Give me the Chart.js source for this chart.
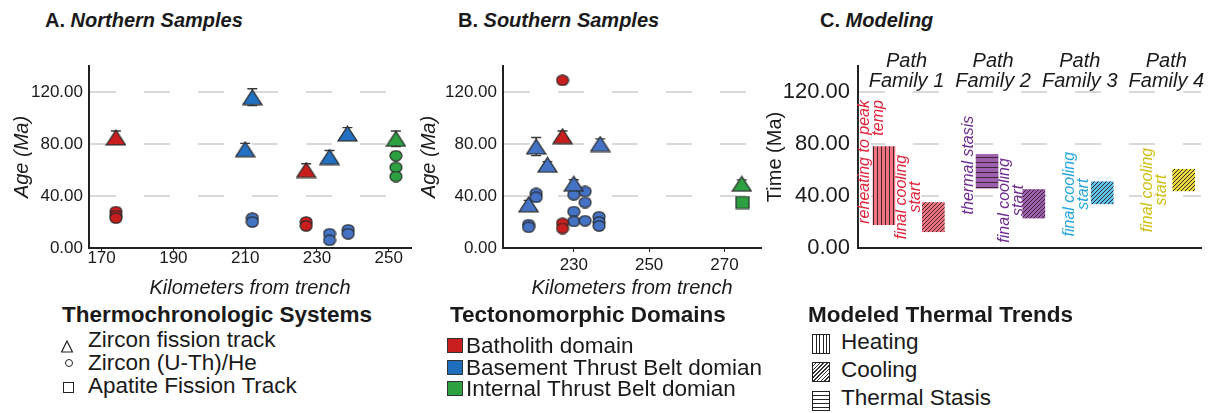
<!DOCTYPE html>
<html>
<head>
<meta charset="utf-8">
<script src="https://cdn.jsdelivr.net/npm/chart.js@4.4.1/dist/chart.umd.min.js"></script>
<style>
  body { margin: 0; background: #fff; }
  #fig { position: relative; width: 1214px; height: 413px; overflow: hidden;
         font-family: "Liberation Sans", Arial, sans-serif; color: #1a1a1a; }
  canvas { position: absolute; top: 0; }
  .ptitle { position: absolute; top: 10px; font-size: 20px; line-height: 20px; font-weight: bold; white-space: nowrap; }
  .lgTitle { position: absolute; top: 304px; font-size: 22.5px; line-height: 22.5px; font-weight: bold; white-space: nowrap; }
  .lgItem { position: absolute; font-size: 22.5px; line-height: 22.5px; white-space: nowrap; }
  .sw { position: absolute; box-sizing: border-box; }
</style>
</head>
<body>
<div id="fig">
  <div class="ptitle" style="left:45px">A. <i>Northern Samples</i></div>
  <div class="ptitle" style="left:458px">B. <i>Southern Samples</i></div>
  <div class="ptitle" style="left:820px">C. <i>Modeling</i></div>

  <canvas id="chartA" width="420" height="300" style="left:0px"></canvas>
  <canvas id="chartB" width="360" height="300" style="left:410px"></canvas>
  <canvas id="chartC" width="454" height="300" style="left:760px"></canvas>

  <!-- legend: systems -->
  <div class="lgTitle" style="left:62px">Thermochronologic Systems</div>
  <svg class="sw" style="left:61px;top:340px" width="12" height="13"><polygon points="6,1 11.4,12 0.6,12" fill="none" stroke="#222" stroke-width="1.2"/></svg>
  <div class="sw" style="left:65px;top:359px;width:8px;height:8px;border:1.2px solid #222;border-radius:50%"></div>
  <div class="sw" style="left:63px;top:382px;width:11px;height:11px;border:1.2px solid #222"></div>
  <div class="lgItem" style="left:88px;top:328.5px">Zircon fission track</div>
  <div class="lgItem" style="left:88px;top:352px">Zircon (U-Th)/He</div>
  <div class="lgItem" style="left:88px;top:375px">Apatite Fission Track</div>

  <!-- legend: domains -->
  <div class="lgTitle" style="left:450px">Tectonomorphic Domains</div>
  <div class="sw" style="left:447px;top:338px;width:16px;height:15px;background:#C81E1E;border:1.5px solid #333"></div>
  <div class="sw" style="left:447px;top:360px;width:16px;height:15px;background:#1F6EBE;border:1.5px solid #333"></div>
  <div class="sw" style="left:447px;top:381px;width:16px;height:15px;background:#2DA041;border:1.5px solid #333"></div>
  <div class="lgItem" style="left:466px;top:335px">Batholith domain</div>
  <div class="lgItem" style="left:466px;top:356.5px">Basement Thrust Belt domian</div>
  <div class="lgItem" style="left:466px;top:378px">Internal Thrust Belt domian</div>

  <!-- legend: modeled trends -->
  <div class="lgTitle" style="left:808px">Modeled Thermal Trends</div>
  <div class="sw" style="left:812px;top:334px;width:18px;height:20px;border:1.5px solid #222;background:repeating-linear-gradient(90deg,#fff 0 2.6px,#222 2.6px 3.6px)"></div>
  <div class="sw" style="left:812px;top:362px;width:18px;height:20px;border:1.5px solid #222;background:repeating-linear-gradient(135deg,#fff 0 1.6px,#333 1.6px 2.7px)"></div>
  <div class="sw" style="left:812px;top:391px;width:18px;height:20px;border:1.5px solid #222;background:repeating-linear-gradient(180deg,#fff 0 3px,#222 3px 4px)"></div>
  <div class="lgItem" style="left:841px;top:331px">Heating</div>
  <div class="lgItem" style="left:841px;top:359px">Cooling</div>
  <div class="lgItem" style="left:841px;top:387px">Thermal Stasis</div>
</div>

<script>
// ---------- data ----------
// A. Northern samples
const northZftKm     = [174, 227, 212, 210, 233.5, 238.5, 252];
const northZftAge    = [85, 60, 116, 76, 70, 88, 84];
const northZftErr    = [5, 4.8, 6.5, 4.5, 5, 4.6, 6];
const northZftDomain = ['Batholith', 'Batholith', 'Basement', 'Basement', 'Basement', 'Basement', 'Internal'];

const northZheKm     = [174, 174, 174, 227, 227, 212, 212, 233.5, 233.5, 238.7, 238.7, 252, 252, 252];
const northZheAge    = [28, 25, 23, 20, 17, 23, 20, 11, 6, 14, 11, 71, 62, 55];
const northZheDomain = ['Batholith', 'Batholith', 'Batholith', 'Batholith', 'Batholith',
                        'Basement', 'Basement', 'Basement', 'Basement', 'Basement', 'Basement',
                        'Internal', 'Internal', 'Internal'];

// B. Southern samples
const southZftKm     = [227, 220, 223, 237, 230, 218, 274.6];
const southZftAge    = [86, 78, 64, 80, 49.5, 33.6, 49.4];
const southZftErr    = [4, 7, 2.5, 4, 3, 3, 3];
const southZftDomain = ['Batholith', 'Basement', 'Basement', 'Basement', 'Basement', 'Basement', 'Internal'];

const southZheKm     = [227, 227, 227, 220, 220, 218, 218, 230, 230, 230, 233, 233, 233, 236.7, 236.7, 236.7];
const southZheAge    = [129, 19, 15, 42, 39, 18, 16, 41, 28, 20.5, 43.5, 35, 21, 24, 20, 17];
const southZheDomain = ['Batholith', 'Batholith', 'Batholith',
                        'Basement', 'Basement', 'Basement', 'Basement', 'Basement', 'Basement', 'Basement',
                        'Basement', 'Basement', 'Basement', 'Basement', 'Basement', 'Basement'];

const southAftKm     = [274.8];
const southAftAge    = [35];
const southAftDomain = ['Internal'];

const kmTicksNorth = [170, 190, 210, 230, 250];
const kmTicksSouth = [230, 250, 270];
const ageTicks     = [0, 40, 80, 120];

// C. Modeling
const pathFamilies = ['Path Family 1', 'Path Family 2', 'Path Family 3', 'Path Family 4'];
const trendFamily  = [1, 1, 2, 2, 3, 4];
const trendKind    = ['Heating', 'Cooling', 'Thermal Stasis', 'Cooling', 'Cooling', 'Cooling'];
const trendOld     = [78, 35, 72, 45, 51, 60.5];   // Ma
const trendYoung   = [18, 12.5, 46, 23, 34, 44];   // Ma
const trendNotes   = [['reheating to peak', 'temp'], ['final cooling', 'start'], ['thermal stasis'],
                      ['final cooling', 'start'], ['final cooling', 'start'], ['final cooling', 'start']];

// ---------- styles ----------
const INK = '#1a1a1a';
const AXIS = '#222';
const domainColor = { Batholith: '#C81E1E', Basement: '#4472C4', Internal: '#2DA041' };
const zftBasementNorth = '#2271C2';
const familyFill = ['#F0737F', '#9D5EAE', '#5DC2E9', '#E8DA3E'];
const familyText = ['#E0263C', '#6F2C90', '#27A5DD', '#D0C015'];

Chart.defaults.font.family = '"Liberation Sans", Arial, sans-serif';

// marker images (the figure's markers are slightly flattened)
function markerImg(shape, fill) {
  const c = document.createElement('canvas');
  const ctx = c.getContext('2d');
  if (shape === 'tri') {
    c.width = 21; c.height = 17;
    ctx.beginPath();
    ctx.moveTo(10.5, 1.2); ctx.lineTo(20, 15.8); ctx.lineTo(1, 15.8); ctx.closePath();
  } else if (shape === 'circ') {
    c.width = 14; c.height = 12;
    ctx.beginPath();
    ctx.ellipse(7, 6, 6, 5.2, 0, 0, Math.PI * 2);
  } else {
    c.width = 15; c.height = 14;
    ctx.beginPath();
    ctx.rect(1, 1, 13, 12);
  }
  ctx.fillStyle = fill;
  ctx.fill();
  ctx.strokeStyle = '#2b2b2b';
  ctx.lineWidth = 1.2;
  ctx.stroke();
  return c;
}

function buildSets(km, age, err, domain, shape, colorOf) {
  return ['Batholith', 'Basement', 'Internal'].map(dom => {
    const idx = km.map((_, i) => i).filter(i => domain[i] === dom);
    return {
      label: dom,
      data: idx.map(i => ({ x: km[i], y: age[i] })),
      errorBars: err ? idx.map(i => err[i]) : null,
      pointStyle: markerImg(shape, colorOf(dom)),
      pointRadius: 8
    };
  }).filter(ds => ds.data.length);
}

// vertical error bars, drawn under the markers
const errorBarPlugin = {
  id: 'errorBars',
  beforeDatasetsDraw(chart) {
    const { ctx, scales: { x, y } } = chart;
    ctx.save();
    ctx.strokeStyle = '#3a3a3a';
    ctx.lineWidth = 1.3;
    chart.data.datasets.forEach(ds => {
      if (!ds.errorBars) return;
      ds.data.forEach((p, i) => {
        const e = ds.errorBars[i];
        if (!e) return;
        const px = x.getPixelForValue(p.x);
        const top = y.getPixelForValue(p.y + e);
        const bot = y.getPixelForValue(p.y - e);
        ctx.beginPath();
        ctx.moveTo(px, top); ctx.lineTo(px, bot);
        ctx.moveTo(px - 5, top); ctx.lineTo(px + 5, top);
        ctx.moveTo(px - 5, bot); ctx.lineTo(px + 5, bot);
        ctx.stroke();
      });
    });
    ctx.restore();
  }
};

function ageAxis(cfg) {
  return {
    min: 0, max: 140,
    afterBuildTicks: s => { s.ticks = ageTicks.map(v => ({ value: v })); },
    afterFit: s => { s.width = cfg.width; },
    ticks: { font: { size: cfg.tickSize }, color: INK, padding: cfg.tickPad, callback: v => v.toFixed(2) },
    grid: { color: '#D9D9D9', lineWidth: 2, drawTicks: false },
    border: { display: true, color: AXIS, width: 2, dash: [26, 28] },
    title: { display: true, text: cfg.title, color: INK, font: cfg.titleFont, padding: { top: cfg.titlePad, bottom: 0 } }
  };
}

function makeAgePanel(id, cfg) {
  return new Chart(document.getElementById(id), {
    type: 'scatter',
    data: { datasets: cfg.datasets },
    options: {
      responsive: false, animation: false, events: [],
      layout: { padding: { top: 66, right: 8, left: 0, bottom: 0 } },
      plugins: { legend: { display: false }, tooltip: { enabled: false } },
      scales: {
        x: {
          type: 'linear', min: cfg.xMin, max: cfg.xMax,
          afterBuildTicks: s => { s.ticks = cfg.xTicks.map(v => ({ value: v })); },
          afterFit: s => { s.height = 52; },
          ticks: { font: { size: 17 }, color: INK, padding: cfg.xLabelPad, callback: v => String(v) },
          grid: { display: true, drawOnChartArea: false, drawTicks: true, tickLength: 4, color: AXIS, lineWidth: 1 },
          border: { display: true, color: AXIS, width: 2 },
          title: { display: true, text: 'Kilometers from trench', color: INK,
                   font: { size: 20, style: 'italic' }, padding: 0 }
        },
        y: ageAxis({ width: cfg.yWidth, tickSize: 17, tickPad: 6, title: 'Age (Ma)',
                     titleFont: { size: 20, style: 'italic' }, titlePad: cfg.yTitlePad })
      }
    },
    plugins: [errorBarPlugin]
  });
}

// A. Northern
makeAgePanel('chartA', {
  xMin: 166.5, xMax: 256.2, xTicks: kmTicksNorth, xLabelPad: -4, yWidth: 89, yTitlePad: 10,
  datasets: [
    ...buildSets(northZftKm, northZftAge, northZftErr, northZftDomain, 'tri',
                 d => d === 'Basement' ? zftBasementNorth : domainColor[d]),
    ...buildSets(northZheKm, northZheAge, null, northZheDomain, 'circ', d => domainColor[d])
  ]
});

// B. Southern
makeAgePanel('chartB', {
  xMin: 211.2, xMax: 279.7, xTicks: kmTicksSouth, xLabelPad: 3, yWidth: 93, yTitlePad: 7,
  datasets: [
    ...buildSets(southZftKm, southZftAge, southZftErr, southZftDomain, 'tri', d => domainColor[d]),
    ...buildSets(southZheKm, southZheAge, null, southZheDomain, 'circ', d => domainColor[d]),
    ...buildSets(southAftKm, southAftAge, null, southAftDomain, 'sq', d => domainColor[d])
  ]
});

// C. Modeling
function makePattern(kind, fill) {
  const c = document.createElement('canvas');
  const ctx = c.getContext('2d');
  const s = kind === 'Thermal Stasis' ? 5 : 4;
  c.width = s; c.height = s;
  ctx.fillStyle = fill;
  ctx.fillRect(0, 0, s, s);
  ctx.fillStyle = ctx.strokeStyle = '#3b2833';
  if (kind === 'Heating') {
    ctx.fillRect(1, 0, 1, s);
  } else if (kind === 'Thermal Stasis') {
    ctx.fillRect(0, 2, s, 1);
  } else {
    ctx.lineWidth = 1;
    ctx.beginPath();
    ctx.moveTo(0, s); ctx.lineTo(s, 0);
    ctx.moveTo(-1, 1); ctx.lineTo(1, -1);
    ctx.moveTo(s - 1, s + 1); ctx.lineTo(s + 1, s - 1);
    ctx.stroke();
  }
  return ctx.createPattern(c, 'repeat');
}

// where each bar and its note sit inside its family slot
const barShift = [-0.26, 0.31, -0.07, 0.47, 0.26, 0.2];
const noteLayout = [
  { x: 0.52, y: 113.8, align: 'right' },
  { x: 0.946, y: 39.2, align: 'center' },
  { x: 1.711, y: 63.8, align: 'center' },
  { x: 2.134, y: 36.6, align: 'center' },
  { x: 2.884, y: 41.4, align: 'center' },
  { x: 3.788, y: 44.6, align: 'center' }
];

const notesPlugin = {
  id: 'modelNotes',
  beforeDatasetsDraw(chart) {
    const { ctx, scales: { x, y } } = chart;
    ctx.save();
    ctx.font = 'italic 16px "Liberation Sans", Arial, sans-serif';
    ctx.textBaseline = 'middle';
    trendNotes.forEach((lines, i) => {
      const L = noteLayout[i];
      ctx.save();
      ctx.translate(x.getPixelForValue(L.x), y.getPixelForValue(L.y));
      ctx.rotate(-Math.PI / 2);
      ctx.textAlign = L.align;
      lines.forEach((t, j) => {
        const w = ctx.measureText(t).width;
        ctx.fillStyle = '#fff';
        ctx.fillRect(L.align === 'right' ? -w : -w / 2, j * 13.5 - 6, w, 12);
      });
      ctx.fillStyle = familyText[trendFamily[i] - 1];
      lines.forEach((t, j) => ctx.fillText(t, 0, j * 13.5));
      ctx.restore();
    });
    ctx.restore();
  },
  afterDraw(chart) {
    const { ctx, chartArea, scales: { x } } = chart;
    ctx.save();
    ctx.font = 'italic 20px "Liberation Sans", Arial, sans-serif';
    ctx.fillStyle = INK;
    ctx.textAlign = 'center';
    ctx.textBaseline = 'middle';
    pathFamilies.forEach((name, i) => {
      const px = x.getPixelForValue(i + 1);
      const cut = name.indexOf(' ');
      ctx.fillText(name.slice(0, cut), px, chartArea.top - 4.5);
      ctx.fillText(name.slice(cut + 1), px, chartArea.top + 15.5);
    });
    ctx.restore();
  }
};

new Chart(document.getElementById('chartC'), {
  type: 'bar',
  data: {
    datasets: [{
      label: 'Modeled thermal trends',
      data: trendFamily.map((f, i) => ({ x: f + barShift[i], y: [trendYoung[i], trendOld[i]] })),
      backgroundColor: trendKind.map((k, i) => makePattern(k, familyFill[trendFamily[i] - 1])),
      borderWidth: 0,
      barThickness: 22
    }]
  },
  options: {
    responsive: false, animation: false, events: [],
    layout: { padding: { top: 66, right: 13, left: 0, bottom: 0 } },
    plugins: { legend: { display: false }, tooltip: { enabled: false } },
    scales: {
      x: {
        type: 'linear', min: 0.44, max: 4.4, offset: false,
        ticks: { display: false },
        grid: { display: false, offset: false },
        border: { display: true, color: AXIS, width: 2 },
        afterFit: s => { s.height = 52; }
      },
      y: ageAxis({ width: 98, tickSize: 22, tickPad: 8, title: 'Time (Ma)',
                   titleFont: { size: 20, lineHeight: 1 }, titlePad: 5 })
    }
  },
  plugins: [notesPlugin]
});
</script>
</body>
</html>
